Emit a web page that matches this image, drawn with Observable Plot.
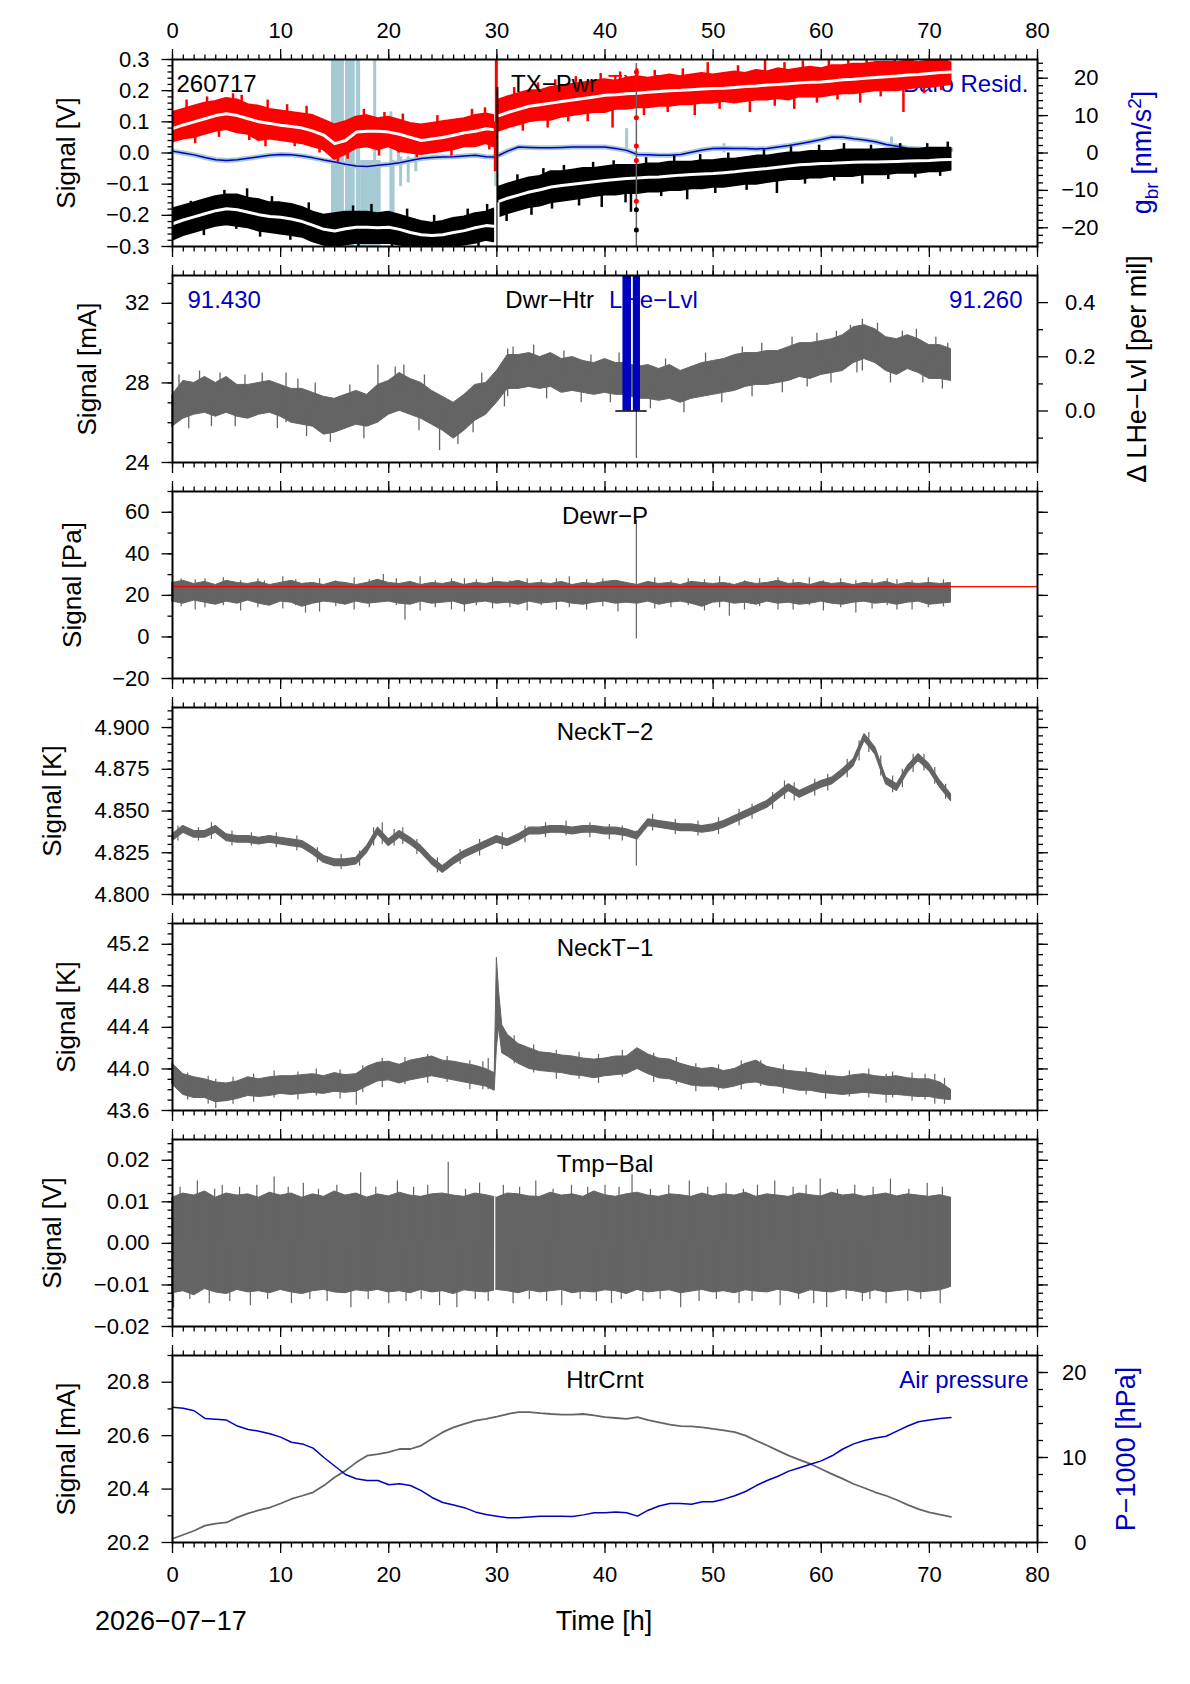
<!DOCTYPE html>
<html><head><meta charset="utf-8">
<script src="https://cdn.jsdelivr.net/npm/d3@7"></script>
<script src="https://cdn.jsdelivr.net/npm/@observablehq/plot@0.6"></script>
<style>
body{margin:0;background:#fff;}
#wrap{position:relative;width:1190px;height:1684px;background:#fff;font-family:"Liberation Sans",Arial,sans-serif;overflow:hidden;}
#wrap svg{position:absolute;left:0;}
.lbl{position:absolute;font-size:27px;line-height:27px;color:#000;white-space:nowrap;}
</style></head><body><div id="wrap"></div>
<script>
// ---------- tick labels / sample times ----------
const XTICKS = [0,10,20,30,40,50,60,70,80];
const HOURS = d3.range(0, 73);
const T1 = [...d3.range(0,30), 29.7, 30, 30.2, ...d3.range(31,73)];
const T5 = [...d3.range(0,30), 29.8, 30.0, 30.2, 30.5, ...d3.range(31,73)];

// ---------- panel 1: TX-Pwr (V) ----------
const redC = [0.078,0.090,0.100,0.110,0.120,0.126,0.120,0.110,0.100,0.095,
  0.089,0.085,0.080,0.070,0.057,0.030,0.040,0.067,0.070,0.070,
  0.067,0.060,0.050,0.040,0.045,0.050,0.057,0.065,0.070,0.078,
  0.075,null,0.120,
  0.130,0.140,0.150,0.155,0.160,0.165,0.170,0.175,0.180,0.185,
  0.187,0.190,0.192,0.195,0.197,0.200,0.201,0.203,0.205,0.207,
  0.208,0.210,0.213,0.215,0.218,0.220,0.222,0.225,0.227,0.228,
  0.231,0.235,0.237,0.240,0.242,0.245,0.247,0.250,0.252,0.255,
  0.258,0.260];
const redHi = [0.130,0.140,0.150,0.160,0.165,0.175,0.170,0.155,0.150,0.140,
  0.135,0.130,0.125,0.120,0.105,0.090,0.100,0.115,0.120,0.110,
  0.115,0.105,0.095,0.090,0.095,0.100,0.105,0.110,0.120,0.125,
  0.120,null,0.170,
  0.180,0.190,0.200,0.200,0.210,0.215,0.220,0.225,0.230,0.235,
  0.230,0.240,0.245,0.240,0.245,0.250,0.245,0.250,0.255,0.250,
  0.255,0.260,0.255,0.265,0.260,0.270,0.265,0.270,0.275,0.270,
  0.280,0.280,0.285,0.285,0.290,0.290,0.290,0.295,0.290,0.295,
  0.300,0.290];
const redLo = [0.035,0.045,0.050,0.060,0.070,0.075,0.065,0.060,0.040,0.045,
  0.040,0.035,0.030,0.020,0.010,-0.020,-0.005,0.015,0.020,0.010,
  0.020,0.005,0.000,-0.005,0.000,0.005,0.010,0.020,0.020,0.030,
  0.020,null,0.070,
  0.080,0.090,0.100,0.105,0.105,0.115,0.120,0.125,0.130,0.130,
  0.140,0.140,0.145,0.145,0.150,0.150,0.155,0.155,0.160,0.160,
  0.165,0.160,0.165,0.170,0.170,0.175,0.170,0.180,0.180,0.180,
  0.185,0.190,0.190,0.195,0.200,0.200,0.200,0.205,0.210,0.210,
  0.215,0.220];
const blkC = [-0.227,-0.215,-0.205,-0.195,-0.185,-0.179,-0.182,-0.190,-0.198,-0.204,
  -0.206,-0.212,-0.220,-0.232,-0.245,-0.250,-0.243,-0.238,-0.238,-0.240,
  -0.238,-0.245,-0.255,-0.262,-0.265,-0.262,-0.255,-0.249,-0.240,-0.233,
  -0.235,null,-0.155,
  -0.145,-0.135,-0.125,-0.118,-0.109,-0.104,-0.100,-0.096,-0.092,-0.088,
  -0.085,-0.082,-0.080,-0.078,-0.077,-0.074,-0.071,-0.069,-0.067,-0.066,
  -0.063,-0.060,-0.056,-0.053,-0.050,-0.046,-0.042,-0.038,-0.036,-0.034,
  -0.033,-0.031,-0.030,-0.029,-0.029,-0.028,-0.027,-0.026,-0.025,-0.024,
  -0.022,-0.021];
const blkHi = [-0.180,-0.170,-0.160,-0.150,-0.140,-0.135,-0.135,-0.145,-0.150,-0.160,
  -0.160,-0.165,-0.175,-0.190,-0.200,-0.195,-0.190,-0.190,-0.190,-0.195,
  -0.190,-0.200,-0.210,-0.220,-0.225,-0.220,-0.210,-0.205,-0.195,-0.190,
  -0.180,null,-0.110,
  -0.100,-0.090,-0.080,-0.075,-0.060,-0.060,-0.055,-0.050,-0.050,-0.045,
  -0.040,-0.040,-0.040,-0.035,-0.035,-0.030,-0.030,-0.030,-0.025,-0.025,
  -0.020,-0.020,-0.015,-0.010,-0.010,-0.005,0.000,0.000,0.005,0.005,
  0.005,0.010,0.010,0.010,0.010,0.012,0.012,0.012,0.012,0.015,
  0.015,0.015];
const blkLo = [-0.280,-0.265,-0.255,-0.245,-0.235,-0.230,-0.235,-0.240,-0.250,-0.255,
  -0.260,-0.265,-0.270,-0.285,-0.295,-0.300,-0.295,-0.290,-0.290,-0.290,
  -0.290,-0.295,-0.300,-0.300,-0.300,-0.300,-0.300,-0.295,-0.290,-0.280,
  -0.285,null,-0.205,
  -0.195,-0.185,-0.175,-0.170,-0.160,-0.155,-0.150,-0.145,-0.140,-0.135,
  -0.135,-0.130,-0.130,-0.125,-0.125,-0.120,-0.120,-0.115,-0.115,-0.110,
  -0.110,-0.105,-0.100,-0.100,-0.095,-0.090,-0.085,-0.085,-0.080,-0.080,
  -0.075,-0.075,-0.075,-0.070,-0.070,-0.070,-0.065,-0.065,-0.065,-0.060,
  -0.060,-0.055];
// scattered outliers of the TX-Pwr samples (x, from, to)
const redUpX = [1.3,3.2,5.6,6.4,8.8,10.6,12.4,17.7,19.6,21.3,24.5,27.7,28.9,31.6,33.8,35.4,37.3,39.6,41.4,44.6,47.2,49.5,52.3,54.8,56.6,58.3,60.7,62.5,64.2,66.8,68.4,70.3,71.6];
const redUpY1 = [0.093,0.112,0.122,0.116,0.096,0.087,0.076,0.069,0.068,0.057,0.047,0.068,0.077,0.136,0.154,0.162,0.171,0.183,0.188,0.196,0.201,0.206,0.211,0.217,0.221,0.226,0.230,0.236,0.240,0.247,0.251,0.256,0.259];
const redUpY2 = [0.170,0.180,0.190,0.185,0.170,0.155,0.150,0.140,0.130,0.125,0.120,0.140,0.145,0.210,0.225,0.235,0.245,0.255,0.260,0.265,0.270,0.290,0.280,0.300,0.290,0.295,0.300,0.300,0.300,0.300,0.300,0.300,0.300];
const redDnX = [2.1,4.3,7.1,8.6,11.3,13.6,15.3,16.2,19.1,20.9,22.6,25.8,29.3,32.4,34.7,36.6,38.4,40.7,43.6,45.8,48.3,50.6,53.4,55.7,57.5,59.6,61.5,63.6,65.5,67.6,69.5,71.1];
const redDnY1 = [0.030,0.050,0.040,0.020,0.020,0.000,-0.030,-0.020,-0.010,0.000,-0.015,-0.010,0.010,0.070,0.080,0.100,0.100,0.080,0.120,0.130,0.120,0.140,0.130,0.150,0.140,0.160,0.170,0.160,0.180,0.130,0.190,0.200];
const redDnY2 = [0.100,0.121,0.109,0.098,0.084,0.062,0.033,0.045,0.070,0.061,0.044,0.056,0.077,0.144,0.158,0.168,0.177,0.186,0.194,0.199,0.204,0.207,0.214,0.219,0.224,0.228,0.233,0.239,0.244,0.249,0.254,0.258];
const blkUpX = [1.7,4.8,6.9,9.2,12.6,16.7,18.4,21.7,24.2,27.3,29.1,31.9,34.3,36.2,38.9,40.8,43.8,46.4,48.8,51.4,54.7,57.2,59.8,62.1,64.6,67.3,69.8,71.7];
const blkUpY1 = [-0.208,-0.180,-0.189,-0.204,-0.227,-0.240,-0.239,-0.252,-0.265,-0.246,-0.233,-0.136,-0.115,-0.103,-0.092,-0.086,-0.078,-0.073,-0.067,-0.062,-0.051,-0.041,-0.034,-0.031,-0.029,-0.027,-0.024,-0.021];
const blkUpY2 = [-0.155,-0.120,-0.115,-0.140,-0.160,-0.170,-0.165,-0.180,-0.200,-0.180,-0.165,-0.070,-0.050,-0.040,-0.030,-0.025,-0.015,-0.010,-0.005,0.000,0.010,0.020,0.025,0.030,0.025,0.030,0.030,0.035];
const blkDnX = [2.9,5.9,8.1,10.9,14.1,17.2,20.3,23.1,26.2,28.3,30.9,33.2,35.1,37.6,39.7,41.9,42.4,45.2,47.6,50.2,53.1,55.9,58.5,61.2,63.8,66.2,68.7,71.0];
const blkDnY1 = [-0.265,-0.245,-0.270,-0.280,-0.300,-0.300,-0.300,-0.300,-0.300,-0.300,-0.220,-0.200,-0.180,-0.170,-0.175,-0.160,-0.190,-0.140,-0.150,-0.130,-0.120,-0.130,-0.100,-0.090,-0.100,-0.085,-0.080,-0.075];
const blkDnY2 = [-0.196,-0.182,-0.197,-0.211,-0.246,-0.238,-0.240,-0.262,-0.254,-0.238,-0.146,-0.124,-0.109,-0.098,-0.089,-0.082,-0.081,-0.076,-0.070,-0.066,-0.056,-0.046,-0.037,-0.033,-0.030,-0.028,-0.026,-0.022];
const redSpX = [29.95, 29.85, 42.95], redSpY1 = [-0.01, -0.06, 0.20], redSpY2 = [0.30, 0.10, 0.27];
const blkSpX = [30.05], blkSpY1 = [-0.3], blkSpY2 = [0.21];
const whtSpX = [30.15], whtSpY1 = [-0.3], whtSpY2 = [-0.16];
const grySpX = [42.9], grySpY1 = [-0.3], grySpY2 = [0.287];
const redDotX = [42.9,42.9,42.9,42.9,42.9], redDotY = [0.26,0.113,0.0225,-0.024,-0.155];
const blkDotX = [42.9,42.9], blkDotY = [-0.182,-0.247];

// gravity residual (nm/s^2)
const resid = [0.5,0.0,-0.5,-1.2,-1.8,-2.0,-1.8,-1.4,-1.0,-0.6,
  -0.4,-0.5,-0.8,-1.3,-1.9,-2.4,-3.0,-3.5,-3.6,-3.3,
  -3.0,-2.6,-2.0,-1.5,-1.2,-1.1,-1.0,-0.8,-0.6,-1.0,
  -1.1,null,-0.6,
  0.5,1.6,1.5,1.4,1.4,1.5,1.6,1.6,1.6,1.6,
  1.2,0.7,-0.4,-0.5,-0.6,-0.6,-0.4,0.2,0.8,1.2,
  1.3,1.2,1.2,1.1,1.2,1.6,2.0,2.5,3.0,3.6,
  4.3,4.2,3.8,3.5,3.0,2.3,1.8,1.3,1.1,1.0,
  0.9,0.9];
const lbRectX1 = [14.7, 16.0, 17.0, 17.4], lbRectX2 = [15.9, 16.9, 17.4, 19.3];
const lbRectY1 = [-25, -25, -25, -25], lbRectY2 = [25, 25, 25, -2];
const lbSpX = [18.7, 20.2, 20.4, 20.9, 21.1, 21.8, 22.5, 29.9, 42.0, 51.0, 66.5];
const lbSpY1 = [-2, -16, -16, -3, -9, -8, -5, -9, 0, 0, 1];
const lbSpY2 = [25, 11, -2, 4, -1, -1, 0, 0, 6.5, 2.5, 4.3];

// ---------- panel 2: Dwr-Htr (mA) + LHe-Lvl ----------
const dwrHi = [27.4,28.1,28.0,28.3,28.0,28.3,27.9,27.9,28.0,28.1,
  27.9,27.7,27.7,27.5,27.3,27.2,27.4,27.6,27.4,27.9,
  28.1,28.5,28.2,28.0,27.6,27.3,27.0,27.4,27.9,28.0,
  28.6,29.4,29.4,29.5,29.3,29.5,29.2,29.3,29.1,29.0,
  29.2,29.0,29.0,28.8,28.9,28.7,28.9,28.6,28.8,29.0,
  29.1,29.2,29.4,29.5,29.5,29.6,29.6,29.8,30.0,30.0,
  30.1,30.2,30.4,30.8,30.9,30.7,30.3,30.2,30.4,30.2,
  29.9,29.9,29.7];
const dwrLo = [25.8,26.2,26.4,26.5,26.3,26.5,26.3,26.2,26.4,26.5,
  26.3,26.0,25.9,25.8,25.4,25.5,25.7,25.9,25.8,26.0,
  26.4,26.6,26.4,26.2,25.9,25.6,25.2,25.6,26.1,26.4,
  27.0,27.7,27.7,27.8,27.7,27.8,27.5,27.6,27.5,27.4,
  27.5,27.4,27.4,27.2,27.2,27.1,27.2,27.0,27.2,27.3,
  27.4,27.5,27.6,27.8,27.9,27.9,28.0,28.1,28.3,28.2,
  28.4,28.5,28.6,29.0,29.2,29.0,28.6,28.4,28.7,28.5,
  28.2,28.2,28.1];
const dwrSpX = [24.7,42.9,63.8,19.0,10.5,31.0,
  0.6,2.5,4.4,6.7,8.3,11.6,13.2,16.4,20.6,21.4,23.3,28.6,31.5,33.4,36.2,38.7,41.3,45.6,49.3,52.7,54.5,57.3,59.6,61.4,62.7,65.2,67.5,68.8,70.6,71.7,
  1.5,3.6,5.8,9.7,12.4,14.6,17.7,22.8,26.4,27.8,30.7,34.6,37.8,40.5,44.2,47.3,50.8,53.6,56.4,58.7,60.9,63.3,66.4,69.4,71.2];
const dwrSpY1 = [24.6,24.2,28.6,26.0,26.0,27.3,
  27.0,27.5,27.3,27.2,27.4,27.0,26.8,26.7,27.5,27.6,27.2,27.3,28.6,28.7,28.4,28.3,28.3,28.0,28.2,28.6,28.7,29.0,29.2,29.4,29.7,29.8,29.4,29.4,29.0,28.9,
  25.7,25.8,25.8,25.7,25.3,25.0,25.2,25.6,24.9,25.5,26.8,27.2,27.0,27.0,26.7,26.5,27.0,27.3,27.5,27.8,28.0,28.5,28.0,28.0,27.7];
const dwrSpY2 = [27.0,28.5,31.2,28.9,28.5,29.7,
  28.4,28.6,28.5,28.4,28.5,28.2,28.0,27.9,28.8,28.9,28.4,28.5,29.8,29.9,29.6,29.4,29.5,29.2,29.5,29.8,30.0,30.3,30.5,30.6,30.9,31.0,30.6,30.7,30.3,30.0,
  26.8,26.9,26.9,26.9,26.5,26.2,26.4,26.8,26.0,26.7,28.0,28.3,28.1,28.1,27.8,27.7,28.1,28.5,28.7,29.0,29.1,29.6,29.2,29.1,28.9];
const lheX1 = [41.66, 42.62], lheX2 = [42.45, 43.28], lheY1 = [0, 0], lheY2 = [0.6, 0.6];
const lheBaseX1 = [41.0], lheBaseX2 = [43.9], lheBaseY = [0];

// ---------- panel 3: Dewr-P (Pa) ----------
const dewrHi = [26,27,25.5,26.5,25,27,26,25.5,26.5,25,
  26,27,25.5,26,25,26.5,26,25,26,27.5,
  26,25.5,26.5,25,26,25.5,26.5,25,26,25.5,
  26.5,26,27,25.5,26,25.5,26.5,25,26,25.5,
  26.5,27,26,25,26.5,25.5,26,25,26.5,26,
  25.5,26,25,26.5,25.5,26,27,25.5,26,25,
  26.5,25.5,26,25,26,25.5,26.5,25,26,25.5,
  26,25.5,26];
const dewrLo = [17,16,17.5,16.5,15.5,17,16,17.5,16,15,
  17,16.5,14.5,16,17,16.5,15.5,17,16,16.5,
  17,16,15.5,17,16,16.5,17,15.5,16.5,17,
  16,16.5,15.5,17,16,16.5,17,16,15.5,16.5,
  17,16,16.5,16,17,15.5,16.5,17,16,14.5,
  16.5,17,16,16.5,15.5,17,16,16.5,15.5,16,
  17,16,15.5,16.5,17,16,16.5,15.5,16.5,17,
  15.5,16,16.5];
const dewrSpX = [3.0,8.5,12.3,19.5,21.5,27.0,35.5,42.9,51.5,56.0,63.2,67.0,
  0.8,2.1,4.7,6.3,7.9,10.2,11.4,13.6,15.1,16.8,18.2,20.7,22.9,24.3,25.8,28.1,29.6,31.2,32.8,34.1,
  36.7,38.3,39.8,41.2,44.6,46.1,47.7,49.2,50.6,52.9,54.3,57.4,58.9,60.2,61.8,64.7,66.1,68.4,69.9,71.3];
const dewrSpY1 = [14,18,11.5,20,8,12,13,-1,10,13,11.5,13,
  14.5,13,15,12.5,14,13.5,15,12,14.5,13,14,15,12.5,14,13,15,13.5,14,12.5,15,
  14,13,14.5,12,13.5,14,15,12.5,14,13,14.5,13,15,12.5,14,13.5,15,13,14,14.5];
const dewrSpY2 = [28,27,26,30,22,28,28,56,26,28.5,27,27.5,
  28,27.5,28.5,27,28,29,27.5,28,27,28.5,27.5,28,29,27,28,27.5,28.5,27,28,27.5,
  29,27.5,28,27,28.5,27,28,27.5,29,27,28,27.5,28.5,27,28,27.5,28,27,28.5,27.5];
const dewrRef = [24.2];

// ---------- panel 4: NeckT-2 (K) ----------
const nk2Hi = [4.836,4.841,4.838,4.838,4.841,4.836,4.835,4.835,4.834,4.835,
  4.834,4.833,4.832,4.828,4.823,4.821,4.821,4.822,4.829,4.840,
  4.833,4.838,4.834,4.829,4.822,4.817,4.822,4.826,4.829,4.832,
  4.835,4.833,4.836,4.840,4.840,4.841,4.841,4.840,4.841,4.841,
  4.840,4.840,4.839,4.837,4.845,4.844,4.843,4.842,4.842,4.841,
  4.842,4.844,4.847,4.850,4.853,4.856,4.861,4.866,4.862,4.865,
  4.868,4.870,4.875,4.881,4.896,4.888,4.870,4.866,4.877,4.884,
  4.878,4.868,4.860];
const nk2Lo = [4.832,4.837,4.834,4.834,4.837,4.832,4.831,4.831,4.830,4.831,
  4.830,4.829,4.828,4.824,4.819,4.817,4.817,4.818,4.825,4.836,
  4.829,4.834,4.830,4.825,4.818,4.813,4.818,4.822,4.825,4.828,
  4.831,4.829,4.832,4.836,4.836,4.837,4.837,4.836,4.837,4.837,
  4.836,4.836,4.835,4.833,4.841,4.840,4.839,4.838,4.838,4.837,
  4.838,4.840,4.843,4.846,4.849,4.852,4.857,4.862,4.858,4.861,
  4.864,4.866,4.871,4.877,4.892,4.884,4.866,4.862,4.873,4.880,
  4.874,4.864,4.856];
const nk2SpX = [42.9,0.5,2.4,3.6,5.5,7.3,9.6,11.5,13.4,15.6,17.3,18.6,19.4,20.5,21.3,22.6,24.5,26.6,28.4,30.5,32.6,34.5,36.4,38.6,40.4,41.6,
  44.4,46.5,48.6,50.5,52.4,53.6,55.5,56.6,57.5,59.4,60.6,62.4,63.5,64.4,65.5,66.6,67.5,68.5,69.5,70.5,71.5];
const nk2SpY1 = [4.817,4.832,4.832,4.833,4.829,4.829,4.828,4.826,4.819,4.815,4.817,4.829,4.830,4.829,4.830,4.824,4.813,4.818,4.823,4.827,4.831,4.834,4.835,4.834,4.833,4.832,
  4.838,4.836,4.835,4.836,4.841,4.845,4.851,4.857,4.856,4.859,4.862,4.870,4.880,4.885,4.871,4.861,4.864,4.873,4.874,4.866,4.857];
const nk2SpY2 = [4.838,4.841,4.840,4.843,4.838,4.837,4.837,4.835,4.828,4.824,4.826,4.840,4.843,4.839,4.840,4.833,4.822,4.827,4.833,4.837,4.841,4.843,4.844,4.843,4.842,4.841,
  4.848,4.845,4.844,4.846,4.851,4.854,4.861,4.868,4.867,4.869,4.872,4.881,4.892,4.897,4.883,4.871,4.875,4.884,4.884,4.876,4.866];

// ---------- panel 5: NeckT-1 (K) ----------
const nk1Hi = [44.05,43.95,43.92,43.90,43.87,43.86,43.88,43.92,43.90,43.92,
  43.93,43.93,43.94,43.95,43.93,43.96,43.94,43.95,44.02,44.06,
  44.07,44.04,44.08,44.10,44.12,44.08,44.07,44.05,44.03,44.00,
  43.96,45.07,44.75,44.42,
  44.33,44.24,44.20,44.16,44.15,44.13,44.12,44.10,44.09,44.10,
  44.12,44.12,44.20,44.14,44.10,44.09,44.05,44.02,44.00,44.01,
  43.98,44.00,44.05,44.08,44.02,44.00,43.98,43.97,43.96,43.94,
  43.93,43.92,43.94,43.95,43.93,43.92,43.93,43.91,43.90,43.90,
  43.87,43.80];
const nk1Lo = [43.85,43.75,43.72,43.72,43.68,43.69,43.71,43.74,43.73,43.74,
  43.76,43.75,43.76,43.77,43.76,43.78,43.77,43.78,43.83,43.88,
  43.89,43.86,43.89,43.91,43.93,43.91,43.89,43.87,43.85,43.83,
  43.79,44.20,44.40,44.15,
  44.12,44.05,44.00,43.98,43.97,43.96,43.94,43.93,43.91,43.93,
  43.94,43.95,44.00,43.95,43.91,43.90,43.87,43.84,43.83,43.83,
  43.81,43.83,43.86,43.87,43.84,43.83,43.81,43.79,43.79,43.77,
  43.76,43.75,43.76,43.77,43.76,43.75,43.75,43.74,43.73,43.73,
  43.71,43.70];
const nk1SpX = [4.0,17.0,29.2,66.0,70.5,
  1.4,3.3,5.6,7.5,9.4,11.6,13.3,15.5,17.6,19.4,21.5,23.6,25.4,27.5,28.7,31.6,33.4,35.5,37.6,39.4,41.6,
  44.5,46.6,48.4,50.5,52.6,54.4,56.5,58.6,60.4,62.6,64.4,66.6,68.4,69.6,71.4];
const nk1SpY1 = [43.62,43.65,43.80,43.67,43.66,
  43.70,43.66,43.66,43.68,43.72,43.70,43.74,43.71,43.77,43.82,43.85,43.86,43.87,43.80,43.80,44.05,43.96,43.90,43.90,43.86,43.92,
  43.87,43.85,43.78,43.79,43.80,43.83,43.76,43.75,43.71,43.73,43.72,43.72,43.69,43.70,43.66];
const nk1SpY2 = [43.90,43.90,44.10,43.95,43.95,
  43.96,43.93,43.92,43.95,43.98,43.97,44.00,43.99,44.03,44.10,44.11,44.14,44.12,44.08,44.07,44.32,44.23,44.18,44.16,44.14,44.18,
  44.15,44.11,44.05,44.04,44.08,44.08,44.04,44.01,43.98,43.98,44.00,43.97,43.96,43.95,43.91];

// ---------- panel 6: Tmp-Bal (V) ----------
const tmpHi = [0.011,0.012,0.0115,0.0125,0.011,0.012,0.0115,0.0118,0.011,0.0122,
  0.0115,0.012,0.011,0.0118,0.0112,0.0125,0.0115,0.012,0.011,0.0118,
  0.0113,0.0122,0.0115,0.0112,0.0118,0.012,0.0115,0.0112,0.012,0.0116,
  0.011,0.012,0.0118,0.0113,0.0112,0.0122,0.0115,0.0118,0.0112,0.0125,
  0.0116,0.0112,0.0118,0.0122,0.0115,0.0112,0.0118,0.0116,0.0112,0.012,
  0.0113,0.0118,0.0115,0.0122,0.0112,0.0118,0.0115,0.0112,0.012,0.0116,
  0.0113,0.0122,0.0115,0.0118,0.0112,0.0116,0.012,0.0113,0.0118,0.0115,
  0.0112,0.0116,0.011];
const tmpLo = [-0.012,-0.0115,-0.0125,-0.011,-0.0118,-0.0122,-0.0112,-0.0118,-0.0115,-0.012,
  -0.0112,-0.0118,-0.0122,-0.0115,-0.0112,-0.0118,-0.012,-0.0113,-0.0116,-0.0112,
  -0.0118,-0.0115,-0.012,-0.0112,-0.0118,-0.0115,-0.0122,-0.0113,-0.0116,-0.0118,
  -0.0112,-0.0115,-0.012,-0.0113,-0.0118,-0.0115,-0.0112,-0.012,-0.0116,-0.0118,
  -0.0113,-0.0115,-0.0122,-0.0112,-0.0118,-0.0115,-0.0113,-0.012,-0.0116,-0.0112,
  -0.0118,-0.0115,-0.012,-0.0113,-0.0116,-0.0118,-0.0112,-0.0115,-0.0122,-0.0113,
  -0.0116,-0.0118,-0.0112,-0.0115,-0.012,-0.0113,-0.0118,-0.0115,-0.0112,-0.0118,
  -0.0116,-0.0113,-0.0105];
const tmpUpX = [0.7,2.3,3.9,4.6,6.2,7.8,9.4,10.7,12.1,13.5,
  15.2,17.4,18.8,20.8,22.3,23.6,25.5,27.1,28.4,30.6,
  32.1,33.6,35.2,36.9,38.4,40.0,41.3,42.5,44.2,45.9,
  47.8,49.5,51.2,52.8,54.1,55.7,57.4,58.6,59.9,61.5,
  63.1,64.8,66.4,68.1,69.8,71.2];
const tmpUpY = [0.0135,0.015,0.013,0.014,0.0135,0.014,0.016,0.0135,0.0145,0.013,
  0.014,0.017,0.0135,0.015,0.0135,0.014,0.0195,0.013,0.0145,0.014,
  0.0135,0.015,0.013,0.014,0.0135,0.014,0.0135,0.0165,0.013,0.014,
  0.015,0.0135,0.0145,0.013,0.014,0.015,0.0135,0.014,0.0155,0.013,
  0.014,0.0135,0.0155,0.013,0.0145,0.0135];
const tmpDnX = [0.1,1.6,3.4,5.3,7.2,8.8,11.0,12.7,14.3,16.5,
  18.1,20.0,21.6,23.0,24.7,26.3,28.0,29.2,31.5,33.0,
  34.6,36.0,37.7,39.2,40.6,41.5,43.5,45.1,47.0,48.7,
  50.3,52.4,53.6,56.2,57.9,59.3,60.5,62.3,63.8,64.5,
  66.0,68.0,69.2,71.0];
const tmpDnY = [-0.0155,-0.0135,-0.0145,-0.014,-0.015,-0.0135,-0.0145,-0.0135,-0.014,-0.0155,
  -0.0135,-0.0145,-0.014,-0.0135,-0.015,-0.0155,-0.0135,-0.014,-0.0145,-0.0135,
  -0.014,-0.015,-0.0135,-0.014,-0.0145,-0.0135,-0.014,-0.0135,-0.0155,-0.014,
  -0.0135,-0.0145,-0.014,-0.015,-0.0135,-0.0145,-0.0155,-0.0135,-0.014,-0.0135,
  -0.0145,-0.014,-0.0135,-0.0145];
const tmpGapX = [29.8], tmpGapY1 = [-0.0125], tmpGapY2 = [0.0125];

// ---------- panel 7: HtrCrnt (mA) + air pressure (hPa) ----------
const htr = [20.214,20.229,20.244,20.263,20.271,20.275,20.294,20.309,20.321,20.331,
  20.346,20.363,20.375,20.388,20.413,20.444,20.469,20.500,20.525,20.531,
  20.538,20.550,20.550,20.563,20.588,20.613,20.631,20.644,20.656,20.663,
  20.671,20.681,20.688,20.688,20.684,20.681,20.679,20.679,20.681,20.676,
  20.669,20.666,20.663,20.669,20.658,20.650,20.641,20.636,20.635,20.631,
  20.625,20.620,20.613,20.600,20.581,20.563,20.544,20.525,20.509,20.494,
  20.475,20.456,20.438,20.419,20.404,20.388,20.375,20.359,20.341,20.325,
  20.313,20.304,20.296];
const air = [15.9,15.8,15.5,14.6,14.5,14.4,13.7,13.3,13.1,12.8,
  12.4,11.8,11.6,11.1,10.0,9.0,8.0,7.5,7.3,7.3,
  6.8,6.9,6.7,6.1,5.3,4.7,4.4,4.1,3.6,3.3,
  3.1,2.9,2.9,3.0,3.1,3.1,3.1,3.06,3.25,3.5,
  3.5,3.6,3.5,3.1,3.8,4.3,4.6,4.6,4.5,4.8,
  4.8,5.1,5.5,6.0,6.7,7.3,7.8,8.4,8.8,9.2,
  9.6,10.2,11.0,11.6,12.0,12.3,12.5,13.1,13.7,14.2,
  14.4,14.6,14.7];

// ---------- layout ----------
const FONT = "Liberation Sans, Arial, Helvetica, sans-serif";
const W = 1190, FL = 172, FR = 1037;
const TOP0 = 59, STEP = 216, FH = 187;
const GRAY = "#646464", BLUE = "#0000c0", LBLUE = "#a6cad4", RED = "#ff0000";
const TFS = 22;
const wrap = document.getElementById("wrap");
const blank = () => "";

function mk(i, ydomain, marks, mt = 14, mb = 15) {
  const svg = Plot.plot({
    width: W, height: mt + FH + mb,
    marginLeft: FL, marginRight: W - FR, marginTop: mt, marginBottom: mb,
    x: {domain: [0, 80], axis: null},
    y: {domain: ydomain, axis: null},
    style: {fontFamily: FONT, fontSize: TFS + "px", background: "transparent", overflow: "visible", color: "#000"},
    marks
  });
  svg.style.top = (TOP0 + STEP * i - mt) + "px";
  wrap.appendChild(svg);
  return {svg, mt};
}
function xAx(anchor, labels) {
  return [
    Plot.axisX({anchor, ticks: XTICKS, tickSize: 11, tickPadding: anchor === "top" ? 11 : 12.5, strokeWidth: 1.3,
      tickFormat: labels ? (d => String(d)) : blank, label: null, fontSize: TFS}),
    Plot.axisX({anchor, ticks: d3.range(0, 81, 1), tickSize: 5.5, strokeWidth: 1.3, tickFormat: blank, label: null})
  ];
}
function yAxL(major, minor, fmt) {
  return [
    Plot.axisY({anchor: "left", ticks: major, tickSize: 10.5, tickPadding: 12.5, strokeWidth: 1.3,
      tickFormat: fmt, label: null, fontSize: TFS}),
    Plot.axisY({anchor: "left", ticks: minor, tickSize: 4.5, strokeWidth: 1.3, tickFormat: blank, label: null})
  ];
}
// right ticks; labels (if any) right-aligned at xEnd
function yAxR(major, minor, fmt, xEnd) {
  const m = [
    Plot.axisY({anchor: "right", ticks: major, tickSize: 10, strokeWidth: 1.3, tickFormat: blank, label: null}),
    Plot.axisY({anchor: "right", ticks: minor, tickSize: 5, strokeWidth: 1.3, tickFormat: blank, label: null})
  ];
  if (fmt) m.push(Plot.text(major, {y: d => d, text: d => fmt(d), frameAnchor: "right", textAnchor: "end",
    dx: xEnd - FR, fontSize: TFS, fill: "#000"}));
  return m;
}
function ttl(t, frameAnchor, textAnchor, dx, fill = "#000") {
  return Plot.text([t], {text: d => d, frameAnchor, textAnchor, dx, dy: 15, fill, fontSize: 24});
}
function yLab(t, xc, fill = "#000") {
  return Plot.text([t], {text: d => d, frameAnchor: "left", dx: xc - FL, rotate: -90, fill, fontSize: 26, textAnchor: "middle"});
}
function yLabR(t, xc, fill = "#000") {
  return Plot.text([t], {text: d => d, frameAnchor: "right", dx: xc - FR, rotate: -90, fill, fontSize: 27, textAnchor: "middle"});
}
const frame = () => Plot.frame({stroke: "#000", strokeWidth: 2});
const f1 = d3.format(".1f"), f2 = d3.format(".2f"), f3 = d3.format(".3f"), fd = d3.format("d");
const spikes = (X, Y1, Y2, stroke, w) => Plot.ruleX(X, {x: X, y1: Y1, y2: Y2, stroke, strokeWidth: w, clip: true});

// ===== Panel 1 =====
const p1r = mk(0, [-25, 25], [
  Plot.rect(lbRectX1, {x1: lbRectX1, x2: lbRectX2, y1: lbRectY1, y2: lbRectY2, fill: LBLUE, clip: true}),
  spikes(lbSpX, lbSpY1, lbSpY2, LBLUE, 3),
  Plot.line(T1, {x: T1, y: resid, stroke: LBLUE, strokeWidth: 5}),
  Plot.line(T1, {x: T1, y: resid, stroke: BLUE, strokeWidth: 1.5}),
  ttl("Baro Resid.", "top-right", "end", -9, BLUE),
  ...yAxR([-20, -10, 0, 10, 20], d3.range(-24, 25, 2), fd, 1098)
], 59, 15);
mk(0, [-0.3, 0.3], [
  Plot.areaY(T1, {x: T1, y1: redLo, y2: redHi, fill: RED, stroke: RED, strokeWidth: 2, clip: true}),
  ttl("TX\u2212Pwr", "top", "start", 3, RED),
  spikes(redUpX, redUpY1, redUpY2, RED, 2.5),
  spikes(redDnX, redDnY1, redDnY2, RED, 2.5),
  Plot.areaY(T1, {x: T1, y1: blkLo, y2: blkHi, fill: "#000", stroke: "#000", strokeWidth: 2, clip: true}),
  spikes(blkUpX, blkUpY1, blkUpY2, "#000", 2.5),
  spikes(blkDnX, blkDnY1, blkDnY2, "#000", 2.5),
  Plot.line(T1, {x: T1, y: redC, stroke: "#fff", strokeWidth: 3}),
  Plot.line(T1, {x: T1, y: blkC, stroke: "#fff", strokeWidth: 3}),
  spikes(grySpX, grySpY1, grySpY2, GRAY, 1.5),
  spikes(redSpX, redSpY1, redSpY2, RED, 3),
  spikes(blkSpX, blkSpY1, blkSpY2, "#000", 2),
  spikes(whtSpX, whtSpY1, whtSpY2, "#fff", 2),
  Plot.dot(redDotX, {x: redDotX, y: redDotY, r: 2.5, fill: RED}),
  Plot.dot(blkDotX, {x: blkDotX, y: blkDotY, r: 2.5, fill: "#000"}),
  ttl("TX\u2212Pwr", "top", "end", -8),
  ttl("260717", "top-left", "start", 4),
  ...xAx("top", true), ...xAx("bottom", false),
  ...yAxL([-0.3, -0.2, -0.1, 0, 0.1, 0.2, 0.3], d3.range(-30, 31, 2).map(v => v / 100), f1),
  yLab("Signal [V]", 66),
  frame()
], 59, 15);
{
  const t = d3.select(p1r.svg).append("text")
    .attr("transform", `translate(1142,${p1r.mt + FH / 2}) rotate(-90)`)
    .attr("text-anchor", "middle").attr("dy", "0.35em")
    .attr("fill", BLUE).attr("font-size", 27).attr("font-family", FONT);
  t.append("tspan").text("g");
  t.append("tspan").attr("font-size", 19).attr("dy", 7).text("br");
  t.append("tspan").attr("dy", -7).text(" [nm/s");
  t.append("tspan").attr("font-size", 19).attr("dy", -10).text("2");
  t.append("tspan").attr("dy", 10).text("]");
}

// ===== Panel 2 =====
mk(1, [24, 33.4], [
  Plot.areaY(HOURS, {x: HOURS, y1: dwrLo, y2: dwrHi, fill: GRAY, stroke: GRAY, strokeWidth: 1}),
  spikes(dwrSpX, dwrSpY1, dwrSpY2, GRAY, 1.3),
  ttl("Dwr\u2212Htr", "top", "end", -11),
  ttl("91.430", "top-left", "start", 15, BLUE),
  ttl("91.260", "top-right", "end", -15, BLUE),
  ...xAx("top", false), ...xAx("bottom", false),
  ...yAxL([24, 28, 32], d3.range(24, 34, 1), fd),
  yLab("Signal [mA]", 87)
]);
mk(1, [-0.19, 0.5], [
  Plot.rect(lheX1, {x1: lheX1, x2: lheX2, y1: lheY1, y2: lheY2, fill: BLUE, clip: true}),
  Plot.ruleY(lheBaseY, {y: lheBaseY, x1: lheBaseX1, x2: lheBaseX2, stroke: "#000", strokeWidth: 1.5}),
  ttl("LHe\u2212Lvl", "top", "start", 4, BLUE),
  ...yAxR([0, 0.2, 0.4], [-0.1, 0.1, 0.3], f1, 1095),
  yLabR("\u0394 LHe\u2212Lvl [per mil]", 1137),
  frame()
]);

// ===== Panel 3 =====
const dewrTicks = [-20, 0, 20, 40, 60], dewrMinor = d3.range(-20, 71, 10);
mk(2, [-20, 70], [
  Plot.areaY(HOURS, {x: HOURS, y1: dewrLo, y2: dewrHi, fill: GRAY, stroke: GRAY, strokeWidth: 1}),
  spikes(dewrSpX, dewrSpY1, dewrSpY2, GRAY, 1.2),
  Plot.ruleY(dewrRef, {y: dewrRef, stroke: RED, strokeWidth: 1.2}),
  ttl("Dewr\u2212P", "top", "middle", 0),
  ...xAx("top", false), ...xAx("bottom", false),
  ...yAxL(dewrTicks, dewrMinor, fd), ...yAxR(dewrTicks, dewrMinor, null),
  yLab("Signal [Pa]", 72),
  frame()
]);

// ===== Panel 4 =====
const nk2Ticks = [4.8, 4.825, 4.85, 4.875, 4.9], nk2Minor = d3.range(0, 23, 1).map(v => 4.8 + v * 0.005);
mk(3, [4.8, 4.912], [
  Plot.areaY(HOURS, {x: HOURS, y1: nk2Lo, y2: nk2Hi, fill: GRAY, stroke: GRAY, strokeWidth: 1.2}),
  spikes(nk2SpX, nk2SpY1, nk2SpY2, GRAY, 1.2),
  ttl("NeckT\u22122", "top", "middle", 0),
  ...xAx("top", false), ...xAx("bottom", false),
  ...yAxL(nk2Ticks, nk2Minor, f3), ...yAxR(nk2Ticks, nk2Minor, null),
  yLab("Signal [K]", 52),
  frame()
]);

// ===== Panel 5 =====
const nk1Ticks = [43.6, 44.0, 44.4, 44.8, 45.2], nk1Minor = d3.range(0, 19, 1).map(v => 43.6 + v * 0.1);
mk(4, [43.6, 45.4], [
  Plot.areaY(T5, {x: T5, y1: nk1Lo, y2: nk1Hi, fill: GRAY, stroke: GRAY, strokeWidth: 1}),
  spikes(nk1SpX, nk1SpY1, nk1SpY2, GRAY, 1.2),
  ttl("NeckT\u22121", "top", "middle", 0),
  ...xAx("top", false), ...xAx("bottom", false),
  ...yAxL(nk1Ticks, nk1Minor, f1), ...yAxR(nk1Ticks, nk1Minor, null),
  yLab("Signal [K]", 66),
  frame()
]);

// ===== Panel 6 =====
const tmpTicks = [-0.02, -0.01, 0, 0.01, 0.02], tmpMinor = d3.range(-20, 26, 2).map(v => v / 1000);
mk(5, [-0.02, 0.025], [
  Plot.areaY(HOURS, {x: HOURS, y1: tmpLo, y2: tmpHi, fill: GRAY, stroke: GRAY, strokeWidth: 1}),
  Plot.ruleX(tmpUpX, {x: tmpUpX, y1: 0, y2: tmpUpY, stroke: GRAY, strokeWidth: 1.2, clip: true}),
  Plot.ruleX(tmpDnX, {x: tmpDnX, y1: 0, y2: tmpDnY, stroke: GRAY, strokeWidth: 1.2, clip: true}),
  Plot.ruleX(tmpGapX, {x: tmpGapX, y1: tmpGapY1, y2: tmpGapY2, stroke: "#fff", strokeWidth: 1.2}),
  ttl("Tmp\u2212Bal", "top", "middle", 0),
  ...xAx("top", false), ...xAx("bottom", false),
  ...yAxL(tmpTicks, tmpMinor, f2), ...yAxR(tmpTicks, tmpMinor, null),
  yLab("Signal [V]", 52),
  frame()
]);

// ===== Panel 7 =====
mk(6, [20.2, 20.9], [
  Plot.line(HOURS, {x: HOURS, y: htr, stroke: GRAY, strokeWidth: 1.8}),
  ttl("HtrCrnt", "top", "middle", 0),
  ...xAx("top", false), ...xAx("bottom", true),
  ...yAxL([20.2, 20.4, 20.6, 20.8], [20.3, 20.5, 20.7, 20.9], f1),
  yLab("Signal [mA]", 66)
], 14, 60);
mk(6, [0, 22], [
  Plot.line(HOURS, {x: HOURS, y: air, stroke: BLUE, strokeWidth: 1.5}),
  ttl("Air pressure", "top-right", "end", -9, BLUE),
  ...yAxR([0, 10, 20], d3.range(0, 23, 2), fd, 1086),
  yLabR("P\u22121000 [hPa]", 1126, BLUE),
  frame()
], 14, 60);

// bottom texts
const tl = document.createElement("div");
tl.className = "lbl"; tl.textContent = "Time [h]";
tl.style.left = "604px"; tl.style.top = "1608px"; tl.style.transform = "translateX(-50%)";
wrap.appendChild(tl);
const dl = document.createElement("div");
dl.className = "lbl"; dl.textContent = "2026\u221207\u221217";
dl.style.left = "95px"; dl.style.top = "1608px";
wrap.appendChild(dl);
</script>
</body></html>
